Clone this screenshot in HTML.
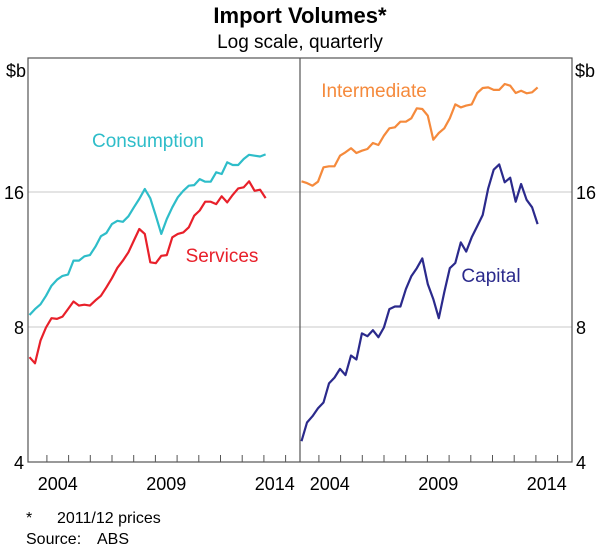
<!DOCTYPE html>
<html><head><meta charset="utf-8"><style>
body{margin:0;background:#fff;}
svg text{font-family:"Liberation Sans",Arial,sans-serif;}
</style></head><body>
<svg id="chart" width="600" height="546" xmlns="http://www.w3.org/2000/svg">
<text x="300" y="23" text-anchor="middle" font-size="22" font-weight="bold">Import Volumes*</text>
<text x="300" y="48" text-anchor="middle" font-size="19">Log scale, quarterly</text>
<g id="grid"></g>
<g id="series"></g>
<g id="axes"></g>
<text x="148" y="147" text-anchor="middle" font-size="19" fill="#2ebdc9">Consumption</text>
<text x="222" y="262" text-anchor="middle" font-size="19" fill="#e8202a">Services</text>
<text x="374" y="97" text-anchor="middle" font-size="19" fill="#f58a3c">Intermediate</text>
<text x="491" y="282" text-anchor="middle" font-size="19" fill="#2b2a8c">Capital</text>
<text x="26" y="523" font-size="16">*</text>
<text x="57" y="523" font-size="16">2011/12 prices</text>
<text x="26" y="544" font-size="16">Source:</text>
<text x="97" y="544" font-size="16">ABS</text>
</svg>
<script>
const startYear = 2003.2;
const quarterStep = 0.253;
const consumption = [8.51,8.77,8.99,9.39,9.89,10.2,10.4,10.47,11.25,11.25,11.5,11.57,12.08,12.75,12.96,13.57,13.8,13.73,14.12,14.79,15.44,16.25,15.49,14.17,12.9,13.93,14.79,15.57,16.1,16.53,16.58,17.1,16.87,16.87,17.7,17.55,18.64,18.38,18.38,18.95,19.37,19.28,19.2,19.41];
const services = [6.85,6.64,7.46,7.98,8.37,8.34,8.44,8.77,9.12,8.93,8.97,8.93,9.17,9.39,9.81,10.28,10.84,11.25,11.74,12.47,13.23,12.9,11.15,11.1,11.53,11.57,12.68,12.9,13.0,13.35,14.17,14.55,15.22,15.22,15.04,15.65,15.17,15.76,16.3,16.39,16.9,16.1,16.19,15.51];
const intermediate = [16.9,16.75,16.53,16.87,18.16,18.26,18.26,19.28,19.62,20.03,19.55,19.78,19.95,20.58,20.37,21.36,22.19,22.3,22.96,22.96,23.36,24.59,24.5,23.67,20.93,21.66,22.19,23.36,25.09,24.71,24.93,25.09,26.6,27.29,27.38,27.02,27.02,27.86,27.62,26.6,26.92,26.56,26.69,27.38];
const capital = [4.45,4.9,5.06,5.27,5.43,5.99,6.17,6.45,6.25,6.91,6.77,7.74,7.63,7.87,7.59,7.98,8.77,8.89,8.89,9.72,10.38,10.82,11.38,9.97,9.23,8.37,9.57,10.82,11.11,12.35,11.78,12.68,13.42,14.22,16.3,17.94,18.44,16.82,17.22,15.22,16.67,15.37,14.79,13.57];
const yTicks = [4,8,16];
const xLabels = [2004,2009,2014];
const tickYears = [2004,2005,2006,2007,2008,2009,2010,2011,2012,2013,2014,2015];

const NS='http://www.w3.org/2000/svg';
const plotTop=58, plotBottom=462, pxPerDouble=135;
function yPos(v){return plotBottom - Math.log2(v/4)*pxPerDouble;}
function xPos(year, off){return off + 46.9 + (year-2004)*21.7;}
function mk(tag, attrs, parent){const e=document.createElementNS(NS,tag);for(const k in attrs)e.setAttribute(k,attrs[k]);parent.appendChild(e);return e;}
const grid=document.getElementById('grid'), ser=document.getElementById('series'), axes=document.getElementById('axes');

yTicks.forEach(t=>{
  if(t>4){
    const g=mk('line',{x1:28,x2:572,y1:yPos(t),y2:yPos(t),stroke:'#c8c8c8','stroke-width':1},grid);
    
    
  }
  const l=mk('text',{x:24,y:yPos(t)+7,'text-anchor':'end','font-size':18},axes);
  l.textContent=t;
  
  
  const r=mk('text',{x:576,y:yPos(t)+7,'font-size':18},axes);
  r.textContent=t;
  
  
});
const ul=mk('text',{x:26,y:77,'text-anchor':'end','font-size':18},axes);ul.textContent='$b';


const ur=mk('text',{x:575,y:77,'font-size':18},axes);ur.textContent='$b';



[0,272].forEach(off=>{
  tickYears.forEach(yr=>{
    const tk=mk('line',{x1:xPos(yr,off),x2:xPos(yr,off),y1:plotBottom,y2:plotBottom-7,stroke:'#555','stroke-width':1},axes);
    
    
  });
  xLabels.forEach(yr=>{
    const t=mk('text',{x:xPos(yr+0.5,off),y:plotBottom+28,'text-anchor':'middle','font-size':18},axes);
    t.textContent=yr;
    
    
  });
});
const frame=mk('rect',{x:28,y:plotTop,width:544,height:plotBottom-plotTop,fill:'none',stroke:'#555','stroke-width':1.2},axes);


const div=mk('line',{x1:300,x2:300,y1:plotTop,y2:plotBottom,stroke:'#555','stroke-width':1.2},axes);



function drawLine(data, off, color, name){
  const pts=data.map((v,i)=>xPos(startYear+i*quarterStep,off).toFixed(1)+','+yPos(v).toFixed(1)).join(' ');
  const p=mk('polyline',{points:pts,fill:'none',stroke:color,'stroke-width':2.2,'stroke-linejoin':'round'},ser);
  
  
}
drawLine(consumption,0,'#2ebdc9','line-consumption');
drawLine(services,0,'#e8202a','line-services');
drawLine(intermediate,272,'#f58a3c','line-intermediate');
drawLine(capital,272,'#2b2a8c','line-capital');
</script>
</body></html>
